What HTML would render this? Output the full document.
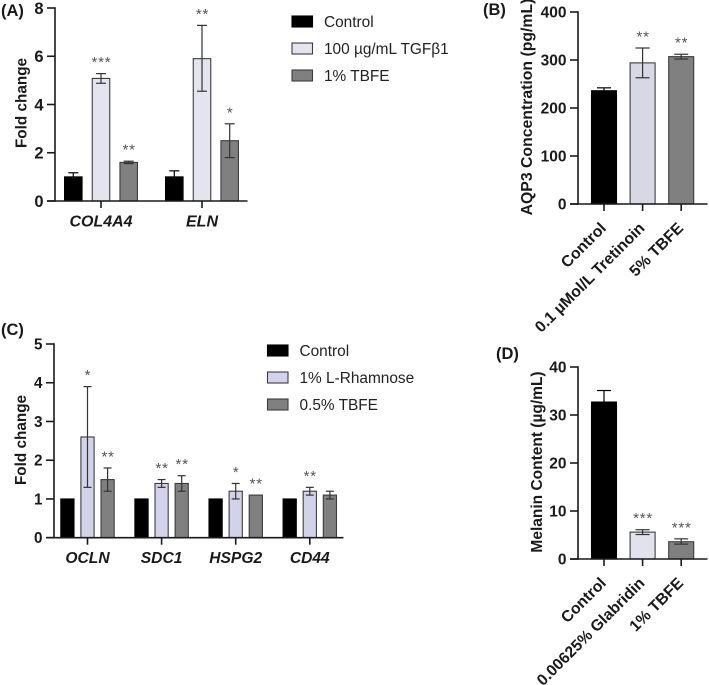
<!DOCTYPE html>
<html lang="en">
<head>
<meta charset="utf-8">
<title>Fold change and concentration bar charts</title>
<style>
html,body{margin:0;padding:0;background:#fff;width:709px;height:685px;overflow:hidden}
svg{display:block;filter:blur(0.35px)}
text{font-family:"Liberation Sans",Arial,sans-serif;fill:#1a1a1a}
</style>
</head>
<body>
<svg id="figure" xmlns="http://www.w3.org/2000/svg" width="709" height="685" viewBox="0 0 709 685"></svg>
<script>
// Panel A
const aCategories = ["COL4A4", "ELN"];
const aTicks = [0, 2, 4, 6, 8];
const aControl = [1.0, 1.0];
const aControlUp = [0.17, 0.25];
const aControlDown = [0.17, 0.25];
const aTgf = [5.08, 5.9];
const aTgfUp = [0.2, 1.38];
const aTgfDown = [0.2, 1.35];
const aTbfe = [1.6, 2.5];
const aTbfeUp = [0.05, 0.7];
const aTbfeDown = [0.05, 0.7];
const aControlStars = ["", ""];
const aTgfStars = ["***", "**"];
const aTbfeStars = ["**", "*"];
const aLegend = ["Control", "100 µg/mL TGFβ1", "1% TBFE"];

// Panel B
const bCategories = ["Control", "0.1 µMol/L Tretinoin", "5% TBFE"];
const bTicks = [0, 100, 200, 300, 400];
const bValues = [236, 294, 307];
const bUp = [6, 31, 5];
const bDown = [6, 31, 5];
const bStars = ["", "**", "**"];
const bFills = ['#000000', '#d8d8e4', '#808080'];

// Panel C
const cCategories = ["OCLN", "SDC1", "HSPG2", "CD44"];
const cTicks = [0, 1, 2, 3, 4, 5];
const cControl = [1, 1, 1, 1];
const cControlUp = [0, 0, 0, 0];
const cControlDown = [0, 0, 0, 0];
const cRham = [2.6, 1.4, 1.2, 1.2];
const cRhamUp = [1.3, 0.1, 0.2, 0.1];
const cRhamDown = [1.3, 0.1, 0.2, 0.1];
const cTbfe = [1.5, 1.4, 1.1, 1.1];
const cTbfeUp = [0.3, 0.2, 0, 0.1];
const cTbfeDown = [0.3, 0.2, 0, 0.1];
const cControlStars = ["", "", "", ""];
const cRhamStars = ["*", "**", "*", "**"];
const cTbfeStars = ["**", "**", "**", ""];
const cLegend = ["Control", "1% L-Rhamnose", "0.5% TBFE"];

// Panel D
const dCategories = ["Control", "0.00625% Glabridin", "1% TBFE"];
const dTicks = [0, 10, 20, 30, 40];
const dValues = [32.7, 5.6, 3.6];
const dUp = [2.4, 0.5, 0.6];
const dDown = [2.4, 0.5, 0.5];
const dStars = ["", "***", "***"];
const dFills = ['#000000', '#e2e2ec', '#808080'];

const svg = document.getElementById('figure');
const NS = 'http://www.w3.org/2000/svg';

function make(tag, attrs, parent, txt) {
  const n = document.createElementNS(NS, tag);
  for (const k in attrs) n.setAttribute(k, attrs[k]);
  if (txt !== undefined) n.textContent = txt;
  parent.appendChild(n);
  return n;
}

function line(parent, x1, y1, x2, y2, color, w) {
  return make('line', {x1: x1, y1: y1, x2: x2, y2: y2, stroke: color, 'stroke-width': w}, parent);
}

function drawPanel(p) {
  const g = make('g', {}, svg);
  
  
  const maxTick = p.ticks[p.ticks.length - 1];
  const y = v => p.y0 - (v / maxTick) * (p.y0 - p.yTop);
  const groupX = i => p.firstCenter + i * p.groupPitch;
  const n = p.series.length;
  const barX = (i, s) => groupX(i) + (s - (n - 1) / 2) * p.barPitch;

  // panel letter
  const tag = make('text', {x: p.tagX, y: p.tagY, 'font-size': 16.5, 'font-weight': 'bold'}, g, p.tag);
  
  

  // bars, error bars, significance marks
  p.series.forEach((s, si) => {
    s.values.forEach((v, i) => {
      const cx = barX(i, si);
      const fill = s.fills ? s.fills[i] : s.fill;
      const errColor = fill === '#000000' ? '#000000' : p.errColor;
      const bar = make('rect', {
        x: cx - p.barW / 2, y: y(v), width: p.barW, height: p.y0 - y(v),
        fill: fill, stroke: fill === '#000000' ? '#000000' : '#3c3c3c', 'stroke-width': 1.1
      }, g);
      
      
      const hi = v + s.up[i], lo = v - s.down[i];
      if (s.up[i] > 0 || s.down[i] > 0) {
        const err = make('g', {}, g);
        
        
        line(err, cx, y(hi), cx, y(lo), errColor, 1.2);
        line(err, cx - p.cap / 2, y(hi), cx + p.cap / 2, y(hi), errColor, 1.2);
        line(err, cx - p.cap / 2, y(lo), cx + p.cap / 2, y(lo), errColor, 1.2);
      }
      if (s.stars[i]) {
        const st = make('text', {
          x: cx + 0.5, y: y(hi) - 15 + 8.5, 'font-size': 15, 'text-anchor': 'middle',
          'letter-spacing': 0.8, style: 'fill:#555'
        }, g, s.stars[i]);
        
        
      }
    });
  });

  // y axis
  const yAxis = make('g', {}, g);
  
  
  line(yAxis, p.axisX, p.yTop - 0.8, p.axisX, p.y0 + 0.8, '#1a1a1a', 1.6);
  p.ticks.forEach(t => {
    line(yAxis, p.axisX - 8, y(t), p.axisX, y(t), '#1a1a1a', 1.6);
    const lbl = make('text', {
      x: p.axisX - 11.5, y: y(t) + p.tickFont * 0.36, 'font-size': p.tickFont,
      'font-weight': 'bold', 'text-anchor': 'end'
    }, yAxis, t);
    
    
  });
  const title = make('text', {
    transform: 'translate(' + p.titleX + ',' + p.titleY + ') rotate(-90)',
    'font-size': p.titleFont, 'font-weight': 'bold', 'text-anchor': 'middle'
  }, g, p.title);
  
  

  // x axis
  const xAxis = make('g', {}, g);
  
  
  line(xAxis, p.axisX - 8, p.y0, p.axisEnd, p.y0, '#1a1a1a', 1.6);
  p.categories.forEach((c, i) => {
    const cx = groupX(i);
    line(xAxis, cx, p.y0, cx, p.y0 + 7, '#1a1a1a', 1.6);
    let lbl;
    if (p.rotated) {
      lbl = make('text', {
        transform: 'translate(' + (cx + 3) + ',' + (p.y0 + 25) + ') rotate(-45)',
        'font-size': p.catFont, 'font-weight': 'bold', 'text-anchor': 'end'
      }, xAxis, c);
    } else {
      lbl = make('text', {
        x: cx, y: p.y0 + 25.5, 'font-size': p.catFont, 'font-weight': 'bold',
        'font-style': 'italic', 'text-anchor': 'middle'
      }, xAxis, c);
    }
    
    
  });

  // legend
  if (p.legend) {
    const lg = make('g', {}, g);
    
    
    p.legend.forEach((name, i) => {
      const top = p.legendY + i * 27;
      const entry = make('g', {}, lg);
      
      
      const f = p.series[i].fill;
      make('rect', {
        x: p.legendX, y: top, width: 20.5, height: 11,
        fill: f, stroke: f === '#000000' ? '#000000' : '#3c3c3c', 'stroke-width': 1.1
      }, entry);
      make('text', {x: p.legendX + 32, y: top + 11, 'font-size': 15.4, style: 'fill:#222'}, entry, name);
    });
  }
}

const black = '#000000', grey = '#808080';

drawPanel({
  name: 'panel-a-chart', tag: '(A)', tagX: 1, tagY: 16,
  categories: aCategories, ticks: aTicks,
  series: [
    {values: aControl, up: aControlUp, down: aControlDown, stars: aControlStars, fill: black},
    {values: aTgf, up: aTgfUp, down: aTgfDown, stars: aTgfStars, fill: '#e4e4ee'},
    {values: aTbfe, up: aTbfeUp, down: aTbfeDown, stars: aTbfeStars, fill: grey}
  ],
  axisX: 55, axisEnd: 247.5, y0: 201, yTop: 8,
  firstCenter: 101, groupPitch: 101, barPitch: 27.7, barW: 17.5, cap: 10, errColor: '#333',
  tickFont: 16.5, catFont: 16, title: 'Fold change', titleFont: 15.3, titleX: 26.5, titleY: 103,
  legend: aLegend, legendX: 292, legendY: 16
});

drawPanel({
  name: 'panel-b-chart', tag: '(B)', tagX: 483, tagY: 15,
  categories: bCategories, ticks: bTicks,
  series: [{values: bValues, up: bUp, down: bDown, stars: bStars, fills: bFills}],
  axisX: 578, axisEnd: 707.5, y0: 204, yTop: 12,
  firstCenter: 604, groupPitch: 38.6, barPitch: 0, barW: 25, cap: 14, errColor: '#333',
  tickFont: 15.5, catFont: 15.8, rotated: true,
  title: 'AQP3 Concentration (pg/mL)', titleFont: 15.8, titleX: 532, titleY: 107
});

drawPanel({
  name: 'panel-c-chart', tag: '(C)', tagX: 1, tagY: 335,
  categories: cCategories, ticks: cTicks,
  series: [
    {values: cControl, up: cControlUp, down: cControlDown, stars: cControlStars, fill: black},
    {values: cRham, up: cRhamUp, down: cRhamDown, stars: cRhamStars, fill: '#d2d2ea'},
    {values: cTbfe, up: cTbfeUp, down: cTbfeDown, stars: cTbfeStars, fill: grey}
  ],
  axisX: 54, axisEnd: 343.5, y0: 537.7, yTop: 344,
  firstCenter: 87.5, groupPitch: 74.1, barPitch: 20.1, barW: 13.2, cap: 8, errColor: '#333',
  tickFont: 15.3, catFont: 15.6, title: 'Fold change', titleFont: 15.3, titleX: 26, titleY: 440,
  legend: cLegend, legendX: 267.5, legendY: 345
});

drawPanel({
  name: 'panel-d-chart', tag: '(D)', tagX: 496, tagY: 359,
  categories: dCategories, ticks: dTicks,
  series: [{values: dValues, up: dUp, down: dDown, stars: dStars, fills: dFills}],
  axisX: 578, axisEnd: 707.5, y0: 559, yTop: 367,
  firstCenter: 604, groupPitch: 38.6, barPitch: 0, barW: 25, cap: 14, errColor: '#333',
  tickFont: 15.5, catFont: 15.8, rotated: true,
  title: 'Melanin Content (µg/mL)', titleFont: 15.5, titleX: 542, titleY: 462
});
</script>
</body>
</html>
